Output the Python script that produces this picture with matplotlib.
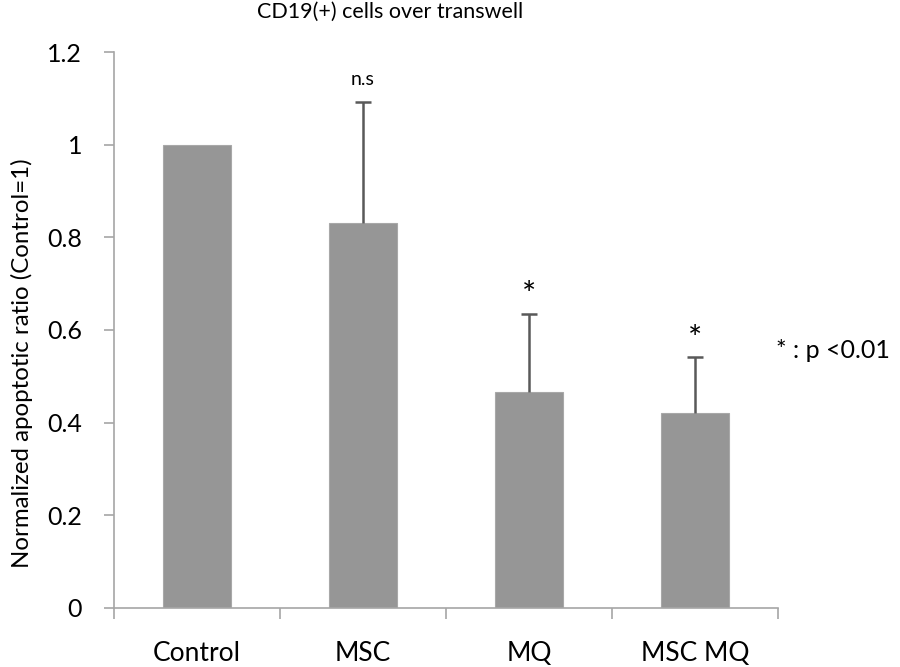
"""Bar chart: CD19(+) cells over transwell, normalized apoptotic ratio."""

import matplotlib

matplotlib.use("Agg")
import matplotlib.pyplot as plt
import numpy as np

plt.rcParams["font.family"] = ["Lato", "DejaVu Sans"]

# --- Data ------------------------------------------------------------------
categories = ["Control", "MSC", "MQ", "MSC MQ"]
ratio = [1.0, 0.831, 0.466, 0.421]
err_up = [0.0, 0.261, 0.169, 0.121]
marks = ["", "n.s", "*", "*"]
yticks = [0, 0.2, 0.4, 0.6, 0.8, 1, 1.2]

BAR_GREY = "#969696"
AXIS_GREY = "#A6A6A6"
ERR_GREY = "#595959"

fig = plt.figure(figsize=(9, 6.67), dpi=100)
ax = fig.add_axes([0.1267, 0.0885, 0.7377, 0.8335])

x = np.arange(len(categories))
ax.bar(x, ratio, width=0.41, color=BAR_GREY, edgecolor="#A8A8A8",
       linewidth=0.8, zorder=2)

# Upper-only error bars (no bar for Control)
has_err = np.array(err_up) > 0
xe = x[has_err]
lo = np.array(ratio)[has_err]
hi = lo + np.array(err_up)[has_err]
ax.vlines(xe, lo, hi, color=ERR_GREY, linewidth=1.8, zorder=3)
ax.plot(xe, hi, linestyle="none", marker="_", markersize=11,
        markeredgewidth=1.8, color=ERR_GREY, zorder=3)

# Significance marks above the error bars
for xi, top, mark in zip(x, np.add(ratio, err_up), marks):
    if mark == "n.s":
        ax.text(xi, top + 0.03, mark, ha="center", va="bottom", fontsize=14)
    elif mark:
        ax.text(xi, top + 0.005, mark, ha="center", va="bottom", fontsize=24)

ax.set_xlim(-0.5, len(categories) - 0.5)
ax.set_ylim(0, 1.2)
ax.set_yticks(yticks)
ax.set_yticklabels(["0", "0.2", "0.4", "0.6", "0.8", "1", "1.2"])

# Category separators as major ticks, labels on minor ticks
ax.set_xticks(np.arange(-0.5, len(categories), 1.0))
ax.set_xticklabels([])
ax.set_xticks(x, minor=True)
ax.set_xticklabels(categories, minor=True)
ax.tick_params(axis="x", which="major", direction="out", length=8,
               color=AXIS_GREY, width=1.2)
ax.tick_params(axis="x", which="minor", length=0, pad=24, labelsize=19)
ax.tick_params(axis="y", direction="out", length=7, color=AXIS_GREY,
               width=1.2, pad=16, labelsize=18)

for side in ("top", "right"):
    ax.spines[side].set_visible(False)
for side in ("left", "bottom"):
    ax.spines[side].set_color(AXIS_GREY)
    ax.spines[side].set_linewidth(1.2)

ax.set_ylabel("Normalized apoptotic ratio (Control=1)", fontsize=17.3)
ax.yaxis.set_label_coords(-0.122, 0.44)
fig.text(0.433, 0.982, "CD19(+) cells over transwell", ha="center",
         va="center", fontsize=15.5)
fig.text(0.862, 0.475, "* : p <0.01", ha="left", va="center", fontsize=18)

fig.savefig("out.png", dpi=100)
